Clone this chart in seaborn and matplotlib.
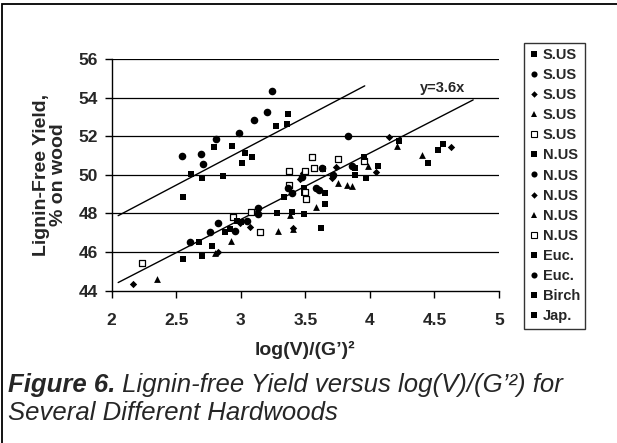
import matplotlib
matplotlib.use("Agg")
import matplotlib.pyplot as plt
import seaborn as sns
import pandas as pd
import numpy as np
from matplotlib.patches import Rectangle

# ---------------- data ----------------
sus_sq_x = [2.550, 2.702, 2.777, 2.878, 3.278, 3.492]
sus_sq_y = [45.64, 45.81, 46.33, 47.06, 48.01, 47.97]
sus_ci_x = [2.607, 2.764, 2.821, 2.955, 3.046, 3.131, 3.136]
sus_ci_y = [46.51, 47.03, 47.49, 47.09, 47.60, 47.96, 48.27]
sus_di_x = [2.167, 2.820, 2.990, 3.071, 3.407, 3.460, 3.484]
sus_di_y = [44.36, 46.00, 47.50, 47.28, 47.23, 49.80, 50.11]
sus_tr_x = [2.351, 2.800, 2.924, 3.286, 3.380, 3.407]
sus_tr_y = [44.61, 45.94, 46.59, 47.09, 47.90, 47.20]
sus_op_x = [2.235, 2.937, 3.079, 3.149, 3.376, 3.376, 3.505]
sus_op_y = [45.42, 47.83, 48.09, 47.06, 49.48, 50.22, 48.74]
nus_sq_x = [2.676, 2.920, 2.968, 3.000, 3.337, 3.394, 3.490, 3.490, 3.652, 3.652, 3.619]
nus_sq_y = [46.51, 47.20, 47.63, 47.55, 48.87, 48.09, 49.31, 49.08, 49.05, 48.48, 47.23]
nus_ci_x = [3.368, 3.394, 3.472, 3.580, 3.606, 3.627, 3.717, 3.833, 3.859]
nus_ci_y = [49.31, 49.05, 49.91, 49.34, 49.22, 50.34, 50.00, 52.00, 50.46]
nus_di_x = [3.709, 3.737, 4.047, 4.148, 4.626]
nus_di_y = [49.82, 50.42, 50.17, 51.95, 51.46]
nus_tr_x = [3.580, 3.750, 3.820, 3.859, 3.988, 4.212, 4.401]
nus_tr_y = [48.35, 49.57, 49.48, 49.42, 50.46, 51.50, 51.03]
nus_op_x = [3.497, 3.497, 3.549, 3.567, 3.750, 3.957]
nus_op_y = [49.13, 50.22, 50.94, 50.38, 50.81, 50.72]
euc_sq_x = [2.555, 2.617, 2.700, 2.795, 2.860, 2.932, 3.007, 3.033, 3.087, 3.273, 3.360, 3.368]
euc_sq_y = [48.84, 50.06, 49.82, 51.46, 49.93, 51.51, 50.62, 51.15, 50.91, 52.55, 52.64, 53.16]
euc_ci_x = [2.547, 2.689, 2.710, 2.808, 2.986, 3.105, 3.203, 3.242]
euc_ci_y = [50.96, 51.07, 50.58, 51.88, 52.19, 52.86, 53.26, 54.33]
birch_x = [4.228, 4.448, 4.525, 4.564]
birch_y = [51.76, 50.63, 51.29, 51.60]
jap_x = [3.639, 3.885, 3.885, 3.957, 3.970, 4.060]
jap_y = [50.29, 50.34, 49.99, 50.94, 49.86, 50.46]

series_labels = ["S.US", "S.US", "S.US", "S.US", "S.US",
                 "N.US", "N.US", "N.US", "N.US", "N.US",
                 "Euc.", "Euc.", "Birch", "Jap."]

# fitted lines (slope, intercept, x range)
upper_fit = dict(slope=3.52, intercept=40.67, x=[2.05, 3.96])
lower_fit = dict(slope=3.44, intercept=37.37, x=[2.05, 4.80])
fit_label = "y=3.6x"

x_ticks = [2, 2.5, 3, 3.5, 4, 4.5, 5]
x_tick_labels = ["2", "2.5", "3", "3.5", "4", "4.5", "5"]
y_ticks = [44, 46, 48, 50, 52, 54, 56]

# ---------------- style ----------------
sns.set_theme(style="white")
plt.rcParams["font.family"] = ["Liberation Sans", "DejaVu Sans"]

W, H = 617, 443
fig = plt.figure(figsize=(W / 100, H / 100), dpi=100)
ax_l, ax_r, ax_t, ax_b = 111.7, 499.0, 59.0, 290.7
ax = fig.add_axes([ax_l / W, 1 - ax_b / H, (ax_r - ax_l) / W, (ax_b - ax_t) / H])

styles = [
    (sus_sq_x, sus_sq_y, "s", "black", 25),
    (sus_ci_x, sus_ci_y, "o", "black", 30),
    (sus_di_x, sus_di_y, "D", "black", 14),
    (sus_tr_x, sus_tr_y, "^", "black", 24),
    (sus_op_x, sus_op_y, "s", "white", 25),
    (nus_sq_x, nus_sq_y, "s", "black", 25),
    (nus_ci_x, nus_ci_y, "o", "black", 30),
    (nus_di_x, nus_di_y, "D", "black", 14),
    (nus_tr_x, nus_tr_y, "^", "black", 24),
    (nus_op_x, nus_op_y, "s", "white", 25),
    (euc_sq_x, euc_sq_y, "s", "black", 25),
    (euc_ci_x, euc_ci_y, "o", "black", 30),
    (birch_x, birch_y, "s", "black", 25),
    (jap_x, jap_y, "s", "black", 25),
]

for fit in (upper_fit, lower_fit):
    fx = np.array(fit["x"])
    fy = fit["slope"] * fx + fit["intercept"]
    sns.lineplot(x=fx, y=fy, ax=ax, color="black", linewidth=1.0, zorder=2)

handles = []
for (xs, ys, m, fc, s), lab in zip(styles, series_labels):
    df = pd.DataFrame({"x": xs, "y": ys})
    sns.scatterplot(data=df, x="x", y="y", ax=ax, marker=m, s=s,
                    color=fc, edgecolor="black",
                    linewidth=0.9 if fc == "white" else 0.0, zorder=3)
    handles.append(plt.Line2D([], [], linestyle="none", marker=m,
                              markersize=4.4 if m != "D" else 3.3,
                              markerfacecolor=fc, markeredgecolor="black",
                              markeredgewidth=0.8 if fc == "white" else 0))

ax.set_xlim(2, 5)
ax.set_ylim(44, 56)
ax.set_xticks(x_ticks)
ax.set_xticklabels(x_tick_labels)
ax.set_yticks(y_ticks)
for yv in y_ticks[1:]:
    ax.axhline(yv, color="black", linewidth=0.9, zorder=1)

for sp in ["top", "right"]:
    ax.spines[sp].set_visible(False)
for sp in ["left", "bottom"]:
    ax.spines[sp].set_color("black")
    ax.spines[sp].set_linewidth(1.0)

ax.tick_params(axis="x", direction="out", length=5, width=1, color="black",
               pad=11, labelsize=12.5, bottom=True)
ax.tick_params(axis="y", direction="out", length=5, width=1, color="black",
               pad=5, labelsize=12.5, left=True)
for lbl in ax.get_xticklabels() + ax.get_yticklabels():
    lbl.set_fontweight("bold")

ax.set_xlabel("log(V)/(G’)²", fontsize=14, fontweight="bold")
ax.xaxis.set_label_coords(0.5, -0.215)
ax.xaxis.label.set_va("top")
ax.set_ylabel("Lignin-Free Yield,\n% on wood", fontsize=14,
              fontweight="bold", linespacing=1.05)
ax.yaxis.set_label_coords(-0.115, 0.5)

ax.text(4.566, 54.5, fit_label, fontsize=10.5, fontweight="bold",
        ha="center", va="center")

leg = ax.legend(handles, series_labels, loc="upper left",
                bbox_to_anchor=(524.3 / W, 1 - 42.7 / H),
                bbox_transform=fig.transFigure, borderaxespad=0,
                frameon=True, fancybox=False, edgecolor="black",
                prop={"weight": "bold", "size": 10.5},
                handlelength=0.6, handletextpad=0.3, labelspacing=0.42,
                borderpad=0.35)
leg.get_frame().set_linewidth(1.0)

# caption
cap_size = 18.5
t1 = fig.text(8 / W, 1 - 392 / H, "Figure 6.", fontsize=cap_size, fontweight="bold",
              style="italic", va="baseline", ha="left")
fig.canvas.draw()
ann = ax.annotate(" Lignin-free Yield versus log(V)/(G’²) for", xy=(1, 0),
                  xycoords=t1, va="bottom", ha="left", fontsize=cap_size,
                  style="italic", annotation_clip=False)
fig.text(8 / W, 1 - 420 / H, "Several Different Hardwoods", fontsize=cap_size,
         style="italic", va="baseline", ha="left")

# outer frame
fig.add_artist(Rectangle((1.5 / W, -0.1), 1.2, 1.1 - 4 / H,
                         transform=fig.transFigure, fill=False,
                         edgecolor="black", linewidth=1.3))

fig.savefig("out.png", dpi=100)
